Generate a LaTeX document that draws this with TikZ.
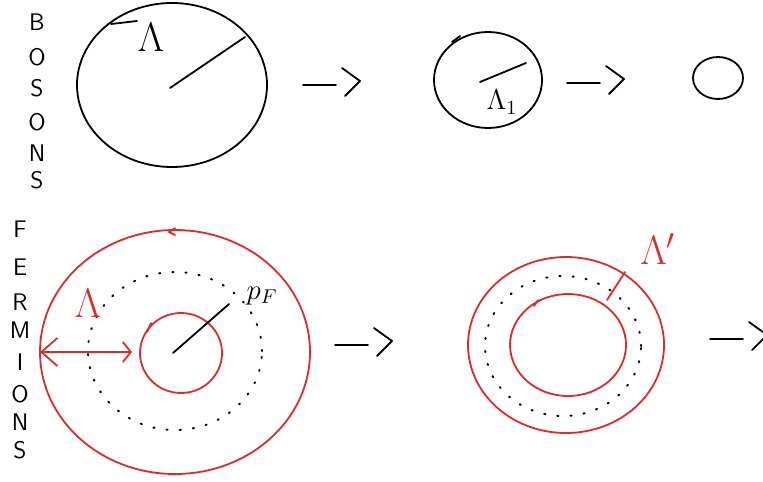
\documentclass[tikz,border=0pt]{standalone}
\usepackage{amsmath}
\usepackage{xcolor}
\usepackage{tikz}
\usetikzlibrary{arrows.meta, calc}
\definecolor{sketchred}{RGB}{218,44,44}

\begin{document}
\begin{tikzpicture}[x=0.5pt, y=-0.5pt,
    pen/.style={line width=0.9pt, line cap=round, line join=round},
    redpen/.style={pen, draw=sketchred},
    dots/.style={line width=1pt, line cap=round, dash pattern=on 0.6pt off 6pt},
    letter/.style={font=\sffamily\large, inner sep=0pt}]
\useasboundingbox (0,0) rectangle (763,481);

% Bosons: shrinking ball
\foreach \ch/\yy [count=\i] in {B/22, O/57, S/88, O/122, N/153, S/180} {
    \node[letter] (bos\i) at (37, \yy) {\ch};
}

\draw[pen] (172,85) ellipse [x radius=47.5pt, y radius=41pt];
\draw[pen] (111,24) -- (137,21);
\draw[pen] (170,88) -- (245,37);
\node[font=\huge] (lam) at (151,37) {$\Lambda$};

\draw[pen] (488,80) ellipse [x radius=27pt, y radius=24pt];
\draw[pen] (452,42) -- (460,36);
\draw[pen] (480,82) -- (526,63);
\node[font=\Large] (lamone) at (502,102) {$\Lambda_1$};

\draw[pen] (718,78) ellipse [x radius=12.5pt, y radius=10.5pt];

% the hand-drawn arrows
\foreach \ax/\ay in {303/85, 567/83, 335/345, 710/339} {
    \draw[pen] (\ax,\ay) -- (\ax+33,\ay);
    \draw[pen] (\ax+39,\ay-17) -- (\ax+57,\ay-4) -- (\ax+42,\ay+11);
}

% Fermions: shell around the Fermi sea
\foreach \ch/\yy [count=\i] in {F/229, E/267, R/302, M/330, I/362, O/394, N/422, S/450} {
    \node[letter] (fer\i) at (20, \yy) {\ch};
}

\draw[redpen] (175,352) ellipse [x radius=67.5pt, y radius=61pt];
\draw[redpen] (175,228) -- (169,232) -- (175,235);
\draw[dots] (175,351) ellipse [x radius=43.5pt, y radius=39.5pt];
\draw[redpen] (181,353) ellipse [x radius=20.5pt, y radius=20pt];
\draw[redpen] (151,323) -- (147,332);
\draw[pen] (173,353) -- (229,304);
\node[font=\Large] (pf) at (262,296) {$p_F$};

\coordinate (lamL) at (40,352);
\coordinate (lamR) at (132,352);
\draw[redpen, {Straight Barb[length=8pt, width=14pt]}-{Straight Barb[length=4pt, width=10pt]}] (lamL) -- (lamR);
\node[text=sketchred, font=\huge] (lamred) at (88,303) {$\Lambda$};

\draw[redpen] (566,345) ellipse [x radius=49pt, y radius=44pt];
\draw[dots] (563,346) ellipse [x radius=39pt, y radius=35pt];
\draw[redpen] (568,345) ellipse [x radius=29pt, y radius=25.5pt];
\draw[redpen] (534,306) -- (538,300);
\coordinate (shin) at (607,300);
\coordinate (shout) at (625,272);
\draw[redpen] (shin) -- (shout);
\node[text=sketchred, font=\huge] (lamprime) at (658,249) {$\Lambda'$};
\end{tikzpicture}
\end{document}
